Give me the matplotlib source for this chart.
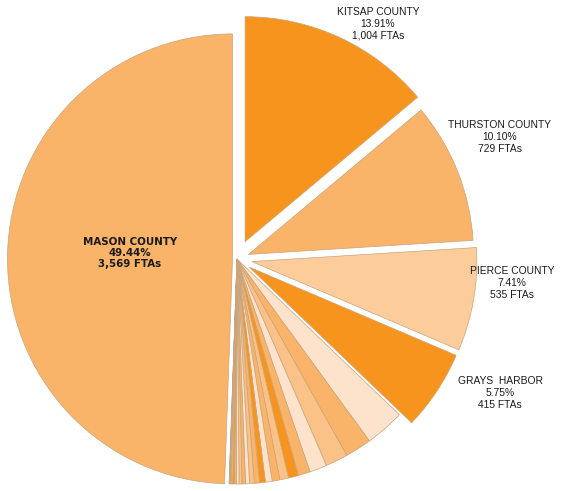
import numpy as np
import matplotlib.pyplot as plt

plt.rcParams['font.family'] = ['Liberation Sans', 'DejaVu Sans']

# FTAs per county, clockwise from 12 o'clock
big_names = ['KITSAP COUNTY', 'THURSTON COUNTY', 'PIERCE COUNTY', 'GRAYS  HARBOR']
big_ftas = [1004, 729, 535, 415]
small_ftas = [204, 137, 116, 90, 62, 52, 45, 40, 35, 30, 27, 24, 21, 18, 15, 13,
              11, 9, 7, 5, 3, 2, 1]
mason_name = 'MASON COUNTY'
mason_ftas = 3569

big_colors = ['#F7941D', '#F9B469', '#FCCD9B', '#F7941D']
small_cycle = ['#FDE3CB', '#F9B469', '#FBC287', '#FDE3CB', '#F9B469', '#F7941D',
               '#FBC287', '#F9B469', '#FDE3CB', '#F7941D', '#F9B469', '#FBC287']
mason_color = '#F9B469'

values = big_ftas + small_ftas + [mason_ftas]
total = sum(values)
colors = big_colors + [small_cycle[i % len(small_cycle)] for i in range(len(small_ftas))] + [mason_color]
explode = [0.085, 0.055, 0.067, 0.065] + [0.0] * len(small_ftas) + [0.02]

W, H = 561, 491
fig = plt.figure(figsize=(W / 100, H / 100), dpi=100)
ax = fig.add_axes([0, 0, 1, 1])

wedges, _ = ax.pie(values, colors=colors, explode=explode, startangle=90,
                   counterclock=False, radius=1.0,
                   wedgeprops=dict(edgecolor='#C9A47C', linewidth=0.5))

# pixel layout: pie centre at (236, 259), radius 225 px
scale = 225.0
cx, cy = 237, 259
ax.set_xlim(-cx / scale, (W - cx) / scale)
ax.set_ylim(-(H - cy) / scale, cy / scale)
ax.set_aspect('auto')
ax.axis('off')


def label(name, v):
    return f"{name}\n{v / total * 100:.2f}%\n{v:,} FTAs"


# label anchors in figure pixels (x, y from top)
label_pos = [(378, 24), (500, 137), (512, 283), (500, 393)]
for name, v, (px, py) in zip(big_names, big_ftas, label_pos):
    fig.text(px / W, 1 - py / H, label(name, v), ha='center', va='center',
             fontsize=7.4, linespacing=1.22, color='#1a1a1a')

fig.text(130 / W, 1 - 253 / H, label(mason_name, mason_ftas), ha='center', va='center',
         fontsize=7.4, linespacing=1.12, fontweight='bold', color='#1a1a1a',
         family='DejaVu Sans')

fig.savefig('out.png', dpi=100)
